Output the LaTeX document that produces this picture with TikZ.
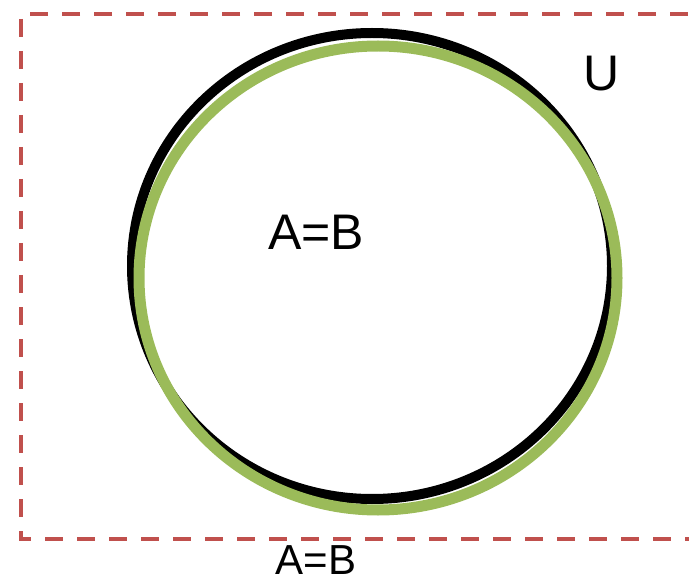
\documentclass[tikz,border=0pt]{standalone}
\usepackage{fontspec}
\setmainfont{Liberation Sans}
\definecolor{setred}{HTML}{C0504D}
\definecolor{setgreen}{HTML}{9BBB59}
\tikzset{
  setlabel/.style={inner sep=0pt, font=\fontsize{50}{50}\selectfont},
  caption/.style={inner sep=0pt, font=\fontsize{42}{42}\selectfont}
}
\begin{document}
\begin{tikzpicture}[x=1pt, y=-1pt, thick]
				\useasboundingbox (0,0) rectangle (689,583);
				\clip (0,0) rectangle (689,583);
				% 1. universe box (dashed, runs off to the right)
				\draw[setred, line width=3.5pt, dash pattern=on 18pt off 14pt] (720,14) -- (21,14) -- (21,539) -- (720,539);
				
				% 2. the two sets, A below B
				\draw[black, line width=10pt] (372,266) ellipse (240 and 233);
				\draw[setgreen, line width=11pt] (378,278) ellipse (239 and 232);
				
				% 3. labels
				\node[setlabel] (uni) at (602,74) {U};
				\node[setlabel] (inner) at (316,232) {A=B};
				\node[caption] (cap) at (316,560) {A=B};
			\end{tikzpicture}
\end{document}
